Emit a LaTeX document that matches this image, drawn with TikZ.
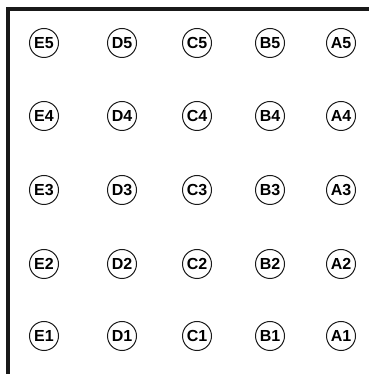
\documentclass[tikz,border=0pt]{standalone}
\usepackage{fontspec}
\setmainfont{Liberation Sans}
\tikzset{
  padnode/.style={circle,draw=black!90,line width=1pt,minimum size=29pt,inner sep=0pt,text=black,
    font=\fontsize{16}{16}\selectfont\bfseries},
  framestroke/.style={line width=3.4pt,draw=black!90}}
\begin{document}
\begin{tikzpicture}[x=1pt,y=1pt]
\useasboundingbox (0,0) rectangle (368,374);
\coordinate (fb) at (8,-2);
\coordinate (fc) at (8,365);
\coordinate (fr) at (370,365);
\draw[framestroke] (fb) -- (fc) -- (fr);
\node[padnode] (E5) at (44,331) {E5};
\node[padnode] (D5) at (122,331) {D5};
\node[padnode] (C5) at (197,331) {C5};
\node[padnode] (B5) at (270,331) {B5};
\node[padnode] (A5) at (341,331) {A5};
\node[padnode] (E4) at (44,258) {E4};
\node[padnode] (D4) at (122,258) {D4};
\node[padnode] (C4) at (197,258) {C4};
\node[padnode] (B4) at (270,258) {B4};
\node[padnode] (A4) at (341,258) {A4};
\node[padnode] (E3) at (44,184) {E3};
\node[padnode] (D3) at (122,184) {D3};
\node[padnode] (C3) at (197,184) {C3};
\node[padnode] (B3) at (270,184) {B3};
\node[padnode] (A3) at (341,184) {A3};
\node[padnode] (E2) at (44,110) {E2};
\node[padnode] (D2) at (122,110) {D2};
\node[padnode] (C2) at (197,110) {C2};
\node[padnode] (B2) at (270,110) {B2};
\node[padnode] (A2) at (341,110) {A2};
\node[padnode] (E1) at (44,38) {E1};
\node[padnode] (D1) at (122,38) {D1};
\node[padnode] (C1) at (197,38) {C1};
\node[padnode] (B1) at (270,38) {B1};
\node[padnode] (A1) at (341,38) {A1};
\end{tikzpicture}
\end{document}
